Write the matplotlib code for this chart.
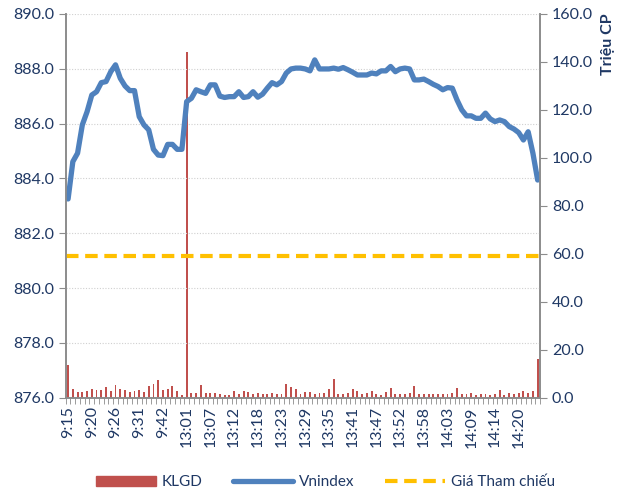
import matplotlib.pyplot as plt
from matplotlib.patches import Patch
from matplotlib.lines import Line2D
import numpy as np

plt.rcParams['font.family'] = ['Lato', 'DejaVu Sans']

# Vnindex theo tung phut (truc trai)
vnindex = [
    883.25, 884.61, 884.92, 885.95, 886.43, 887.04, 887.16, 887.49, 887.53, 887.89,
    888.14, 887.65, 887.37, 887.20, 887.20, 886.25, 885.95, 885.77, 885.06, 884.85,
    884.83, 885.24, 885.24, 885.06, 885.06, 886.80, 886.92, 887.23, 887.16, 887.10,
    887.41, 887.41, 887.00, 886.95, 886.98, 886.98, 887.16, 886.95, 886.98, 887.16,
    886.96, 887.07, 887.29, 887.49, 887.41, 887.53, 887.84, 887.99, 888.02, 888.02,
    887.99, 887.92, 888.32, 887.99, 887.99, 887.99, 888.02, 887.98, 888.04, 887.96,
    887.87, 887.77, 887.77, 887.77, 887.84, 887.81, 887.92, 887.92, 888.08, 887.89,
    887.99, 888.02, 887.99, 887.59, 887.59, 887.62, 887.53, 887.43, 887.35, 887.23,
    887.31, 887.29, 886.86, 886.50, 886.28, 886.28, 886.19, 886.19, 886.38, 886.17,
    886.07, 886.13, 886.07, 885.89, 885.80, 885.67, 885.40, 885.70, 884.92, 883.94,
]

# khoi luong giao dich (trieu CP, truc phai)
klgd = [
    13.75, 3.75, 2.4, 2.4, 2.8, 3.5, 3.2, 3.1, 4.4, 2.9,
    5.3, 3.5, 3.2, 2.5, 2.8, 3.2, 2.4, 4.9, 5.7, 7.5,
    3.2, 3.6, 4.9, 2.8, 1.25, 144.0, 2.1, 2.1, 5.3, 2.1,
    1.9, 1.9, 1.7, 1.25, 1.25, 2.8, 1.8, 2.9, 2.5, 1.4,
    1.9, 1.4, 1.5, 2.1, 1.5, 1.7, 5.8, 4.4, 3.6, 1.7,
    2.4, 2.5, 1.7, 2.1, 2.1, 3.6, 7.8, 1.5, 1.7, 2.1,
    3.75, 2.8, 1.8, 2.2, 2.9, 1.8, 1.25, 2.5, 4.2, 1.5,
    1.7, 1.8, 2.1, 5.0, 1.5, 1.4, 1.5, 1.4, 1.4, 1.7,
    1.5, 1.9, 4.2, 1.8, 1.8, 1.9, 1.25, 1.8, 1.5, 1.25,
    1.7, 3.2, 1.25, 2.2, 1.7, 2.1, 2.8, 1.9, 2.9, 16.25,
]

gia_tham_chieu = 881.17

tick_labels = ['9:15', '9:20', '9:26', '9:31', '9:42', '13:01', '13:07', '13:12',
               '13:18', '13:23', '13:29', '13:35', '13:41', '13:47', '13:52',
               '13:58', '14:03', '14:09', '14:14', '14:20']

navy = '#1F3864'
grey = '#8C8C8C'
x = np.arange(len(vnindex))

fig = plt.figure(figsize=(6.2, 4.93), dpi=100)
ax = fig.add_axes([0.106, 0.193, 0.765, 0.779])
ax2 = ax.twinx()
ax.set_zorder(ax2.get_zorder() + 1)
ax.patch.set_visible(False)

ax2.bar(x, klgd, width=0.4, color='#C0504D')
ax.plot(x, vnindex, color='#4F81BD', lw=3.8, solid_joinstyle='round', solid_capstyle='round')
ax.plot([x[0] - 0.5, x[-1] + 0.5], [gia_tham_chieu] * 2, color='#FFC000', lw=3, dashes=(3, 1.6))

ax.set_xlim(-0.5, len(x) - 0.5)
ax.set_ylim(876, 890)
ax.set_yticks(np.arange(876, 890.1, 2))
ax.set_yticklabels([f'{v:.1f}' for v in np.arange(876, 890.1, 2)])
ax2.set_ylim(0, 160)
ax2.set_yticks(np.arange(0, 161, 20))
ax2.set_yticklabels([f'{v:.1f}' for v in np.arange(0, 161, 20)])

ax.set_xticks(x[::5])
ax.set_xticklabels(tick_labels, rotation=90)
ax.set_xticks(np.arange(-0.5, len(x), 1), minor=True)
ax.tick_params(axis='x', which='major', length=0, pad=6, labelsize=11.5, labelcolor=navy)
ax.tick_params(axis='x', which='minor', length=4, color=grey)
ax.tick_params(axis='y', length=5, color=grey, labelsize=11.5, labelcolor=navy)
ax2.tick_params(axis='y', length=5, color=grey, labelsize=11.5, labelcolor=navy)

ax.yaxis.grid(True, color='#D0D0D0', linestyle=(0, (1, 1.5)), lw=0.8)
for a in (ax, ax2):
    a.spines['top'].set_visible(False)
    for s in ('left', 'right', 'bottom'):
        a.spines[s].set_color(grey)
        a.spines[s].set_linewidth(1.2)

ax2.set_ylabel('Triệu CP', color=navy, fontsize=11.5, fontweight='bold', loc='top', labelpad=6)

handles = [Patch(color='#C0504D'),
           Line2D([], [], color='#4F81BD', lw=3.8, solid_capstyle='round'),
           Line2D([], [], color='#FFC000', lw=3, dashes=(3, 1.6))]
fig.legend(handles, ['KLGD', 'Vnindex', 'Giá Tham chiếu'], loc='lower center',
           bbox_to_anchor=(0.525, -0.02), ncol=3, frameon=False, handlelength=3.9,
           handleheight=0.6, handletextpad=0.4, columnspacing=2.0, fontsize=11,
           labelcolor=navy)

fig.savefig('out.png', dpi=100)
